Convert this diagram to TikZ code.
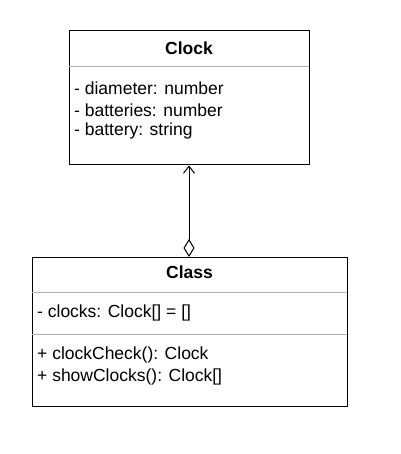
\documentclass[tikz,border=0pt]{standalone}
\usepackage{fontspec}
\setmainfont{Liberation Sans}
\usetikzlibrary{arrows.meta}
\definecolor{sepgray}{HTML}{B3B3B3}
\begin{document}
\begin{tikzpicture}[x=1pt,y=-1pt,
  umlbox/.style={draw=black,line width=1pt,inner sep=0pt},
  sep/.style={draw=sepgray,line width=1pt},
  title/.style={font=\fontsize{17.5}{20}\selectfont\bfseries,inner sep=0pt},
  member/.style={font=\fontsize{17.5}{20}\selectfont,anchor=west,inner sep=0pt},
  assoc/.style={line width=1pt,{Diamond[open,length=18pt,width=11pt]}-{Straight Barb[length=7pt,width=11pt]}}
]
\useasboundingbox (0,0) rectangle (400,454);
% Clock class
\node[umlbox,minimum width=240pt,minimum height=134pt] (clock) at (189,98) {};
\coordinate (c1l) at (69,67);
\coordinate (c1r) at (309,67);
\draw[sep] (c1l) -- (c1r);
\node[title] (clocktitle) at (189,48) {Clock};
\node[member] (cm1) at (74,88) {- diameter: number};
\node[member] (cm2) at (74,110) {- batteries: number};
\node[member] (cm3) at (74,131) {- battery: string};
% Class class
\node[umlbox,minimum width=315pt,minimum height=149pt] (cls) at (189.5,331.5) {};
\coordinate (s1l) at (32,292);
\coordinate (s1r) at (347,292);
\coordinate (s2l) at (32,334);
\coordinate (s2r) at (347,334);
\draw[sep] (s1l) -- (s1r);
\draw[sep] (s2l) -- (s2r);
\node[title] (clstitle) at (189.5,272) {Class};
\node[member] (a1) at (37,313) {- clocks: Clock[] = []};
\node[member] (m1) at (37,355) {+ clockCheck(): Clock};
\node[member] (m2) at (37,377) {+ showClocks(): Clock[]};
% association
\coordinate (dtop) at (189,257);
\coordinate (atip) at (189,165.5);
\draw[assoc] (dtop) -- (atip);
\end{tikzpicture}
\end{document}
